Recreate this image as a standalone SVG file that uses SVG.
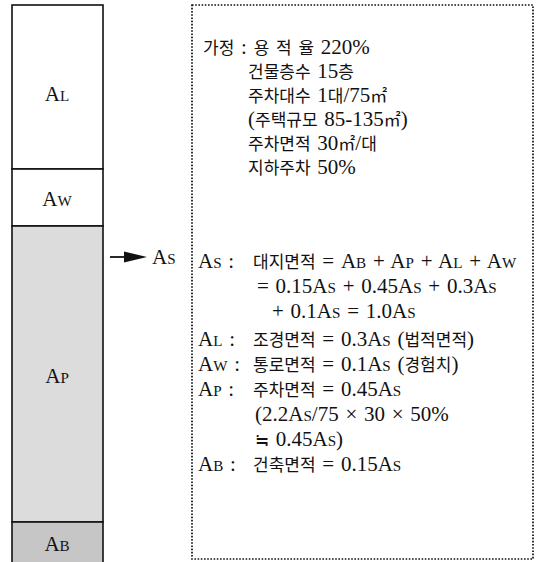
<svg xmlns="http://www.w3.org/2000/svg" width="542" height="562" viewBox="0 0 542 562">
<style>
  text { font-family: "Liberation Serif", "Noto Sans CJK KR", serif; font-size: 21px; fill: #111; word-spacing: 1.5px; }
  .k { font-family: "Noto Sans CJK KR", "Liberation Serif", sans-serif; font-size: 17px; }
  .lbl { font-size: 21px; }
  .sc { font-size: 0.72em; }
  .cell { stroke: #111; stroke-width: 1.6; }
  .box { fill: none; stroke: #111; stroke-width: 1.7; stroke-dasharray: 1.6 1.6; }
</style>
<rect width="542" height="562" fill="#fff"/>

<g id="col-AL">
  <rect class="cell" x="12" y="5" width="91" height="164" fill="#fff"/>
  <text class="lbl" x="57" y="101" text-anchor="middle">A<tspan class="sc">L</tspan></text>
</g>
<g id="col-AW">
  <rect class="cell" x="12" y="169" width="91" height="57" fill="#fff"/>
  <text class="lbl" x="57" y="206" text-anchor="middle">A<tspan class="sc">W</tspan></text>
</g>
<g id="col-AP">
  <rect class="cell" x="12" y="226" width="91" height="296" fill="#dcdcdc"/>
  <text class="lbl" x="57" y="383" text-anchor="middle">A<tspan class="sc">P</tspan></text>
</g>
<g id="col-AB">
  <rect class="cell" x="12" y="522" width="91" height="50" fill="#c6c6c6"/>
  <text class="lbl" x="57" y="551" text-anchor="middle">A<tspan class="sc">B</tspan></text>
</g>

<g id="connectors">
  <line x1="110" y1="257" x2="130" y2="257" stroke="#111" stroke-width="1.8"/>
  <polygon points="124,251.5 147,257 124,262.5" fill="#111"/>
</g>
<g id="label-As">
  <text class="lbl" x="152" y="264">A<tspan class="sc">S</tspan></text>
</g>

<g id="notes">
  <rect class="box" x="192" y="5" width="341" height="554"/>
  <text x="203" y="54"><tspan class="k">가정</tspan> : <tspan class="k">용</tspan> <tspan class="k">적</tspan> <tspan class="k">율</tspan> 220%</text>
  <text x="248" y="78"><tspan class="k">건물층수</tspan> 15<tspan class="k">층</tspan></text>
  <text x="248" y="102"><tspan class="k">주차대수</tspan> 1<tspan class="k">대</tspan>/75<tspan class="k">㎡</tspan></text>
  <text x="248" y="126">(<tspan class="k">주택규모</tspan> 85-135<tspan class="k">㎡</tspan>)</text>
  <text x="248" y="150"><tspan class="k">주차면적</tspan> 30<tspan class="k">㎡</tspan>/<tspan class="k">대</tspan></text>
  <text x="248" y="174"><tspan class="k">지하주차</tspan> 50%</text>

  <text x="198" y="268">A<tspan class="sc">S</tspan> :</text>
  <text x="253" y="268"><tspan class="k">대지면적</tspan> = A<tspan class="sc">B</tspan> + A<tspan class="sc">P</tspan> + A<tspan class="sc">L</tspan> + A<tspan class="sc">W</tspan></text>
  <text x="257" y="293">= 0.15A<tspan class="sc">S</tspan> + 0.45A<tspan class="sc">S</tspan> + 0.3A<tspan class="sc">S</tspan></text>
  <text x="272" y="318">+ 0.1A<tspan class="sc">S</tspan> = 1.0A<tspan class="sc">S</tspan></text>
  <text x="198" y="346">A<tspan class="sc">L</tspan> :</text>
  <text x="253" y="346"><tspan class="k">조경면적</tspan> = 0.3A<tspan class="sc">S</tspan> (<tspan class="k">법적면적</tspan>)</text>
  <text x="198" y="371">A<tspan class="sc">W</tspan> :</text>
  <text x="253" y="371"><tspan class="k">통로면적</tspan> = 0.1A<tspan class="sc">S</tspan> (<tspan class="k">경험치</tspan>)</text>
  <text x="198" y="396">A<tspan class="sc">P</tspan> :</text>
  <text x="253" y="396"><tspan class="k">주차면적</tspan> = 0.45A<tspan class="sc">S</tspan></text>
  <text x="255" y="421">(2.2A<tspan class="sc">S</tspan>/75 × 30 × 50%</text>
  <text x="255" y="446"><tspan class="k">≒</tspan> 0.45A<tspan class="sc">S</tspan>)</text>
  <text x="198" y="471">A<tspan class="sc">B</tspan> :</text>
  <text x="253" y="471"><tspan class="k">건축면적</tspan> = 0.15A<tspan class="sc">S</tspan></text>
</g>
</svg>
